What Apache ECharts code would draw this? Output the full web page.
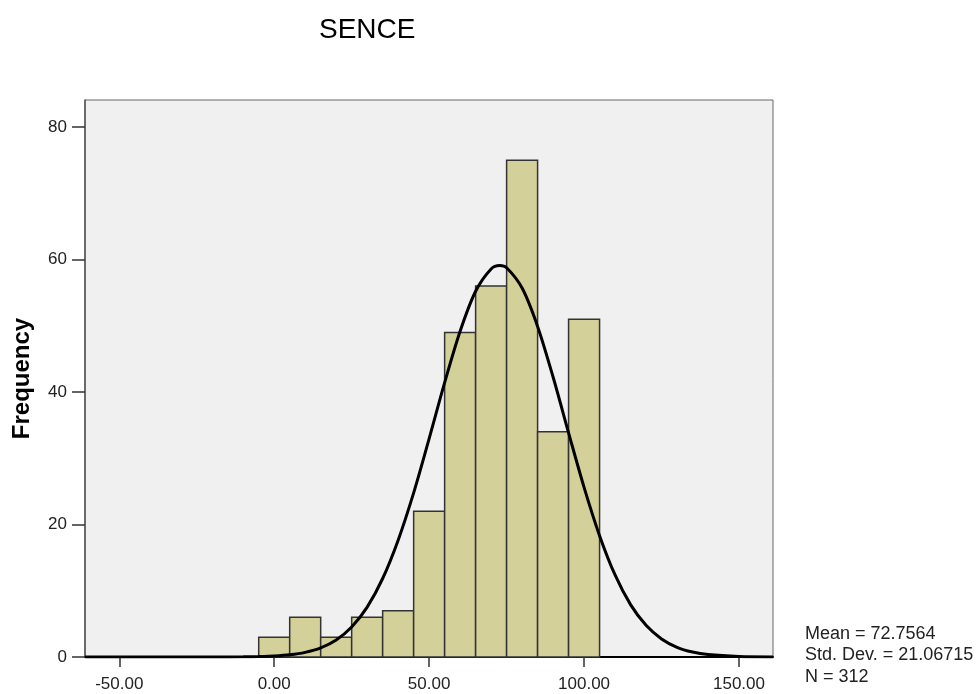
<!DOCTYPE html>
<html>
<head>
<meta charset="utf-8">
<script src="https://cdn.jsdelivr.net/npm/echarts@6/dist/echarts.min.js"></script>
<style>
  html, body { margin: 0; padding: 0; background: #fff; }
  #main { width: 979px; height: 694px; }
</style>
</head>
<body>
<div id="main"></div>
<script>
// histogram bins (width 10, centred on 0, 10, ... 100)
const binStart = [-5, 5, 15, 25, 35, 45, 55, 65, 75, 85, 95];
const binEnd   = [5, 15, 25, 35, 45, 55, 65, 75, 85, 95, 105];
const counts   = [3, 6, 3, 6, 7, 22, 49, 56, 75, 34, 51];

// normal curve
const curveX = [-61, -40, -20, -10, -5, 0, 5, 10, 15, 20, 25, 30, 35, 40, 45, 50, 55, 60, 65, 70, 72.8, 75, 80, 85, 90, 95, 100, 105, 110, 115, 120, 125, 130, 135, 140, 150, 161];
const curveY = [0, 0, 0.002, 0.03, 0.07, 0.15, 0.33, 0.7, 1.38, 2.57, 4.53, 7.53, 11.85, 17.64, 24.78, 32.97, 41.42, 49.18, 55.21, 58.58, 59.08, 58.75, 55.69, 49.9, 42.26, 33.84, 25.61, 18.32, 12.38, 7.91, 4.78, 2.73, 1.47, 0.75, 0.36, 0.07, 0.01];

const xTicks = [-50, 0, 50, 100, 150];
const yTicks = [0, 20, 40, 60, 80];
const statLines = ['Mean = 72.7564', 'Std. Dev. = 21.06715', 'N = 312'];

const barData = binStart.map((s, i) => [s, binEnd[i], counts[i]]);
const lineData = curveX.map((x, i) => [x, curveY[i]]);

const font = 'Liberation Sans, Arial, sans-serif';
const chart = echarts.init(document.getElementById('main'));
chart.setOption({
  animation: false,
  textStyle: { fontFamily: font },
  title: {
    text: 'SENCE',
    left: 314, top: 11,
    textStyle: { fontSize: 28, fontWeight: 'normal', color: '#000' }
  },
  grid: {
    left: 85, right: 206, top: 100, bottom: 37,
    show: true, backgroundColor: '#f0f0f0',
    borderColor: '#666', borderWidth: 1
  },
  xAxis: {
    type: 'value',
    min: -61.06, max: 160.97,
    axisLine: { show: true, onZero: false, lineStyle: { color: '#000', width: 2 } },
    axisTick: { show: true, customValues: xTicks, length: 10, lineStyle: { color: '#333', width: 1.5 } },
    axisLabel: {
      customValues: xTicks, color: '#222', fontSize: 17, margin: 19,
      formatter: v => v.toFixed(2)
    },
    splitLine: { show: false }
  },
  yAxis: {
    type: 'value',
    min: 0, max: 84.08,
    name: 'Frequency',
    nameLocation: 'middle', nameGap: 51,
    nameTextStyle: { fontSize: 24, fontWeight: 'bold', color: '#000' },
    axisLine: { show: true, onZero: false, lineStyle: { color: '#555', width: 1.5 } },
    axisTick: { show: true, customValues: yTicks, length: 13, lineStyle: { color: '#333', width: 1.5 } },
    axisLabel: { customValues: yTicks, color: '#222', fontSize: 17, margin: 18 },
    splitLine: { show: false }
  },
  graphic: [{
    type: 'text', left: 805, top: 623,
    style: { text: statLines.join('\n'), fontSize: 18, lineHeight: 21.5, fill: '#222', fontFamily: font }
  }],
  series: [
    {
      type: 'custom',
      data: barData,
      encode: { x: [0, 1], y: 2 },
      renderItem: (params, api) => {
        const p0 = api.coord([api.value(0), 0]);
        const p1 = api.coord([api.value(1), api.value(2)]);
        return {
          type: 'rect',
          shape: { x: p0[0], y: p1[1], width: p1[0] - p0[0], height: p0[1] - p1[1] },
          style: { fill: '#d4d09a', stroke: '#333', lineWidth: 1.5 }
        };
      }
    },
    {
      type: 'line',
      data: lineData,
      showSymbol: false,
      smooth: 0.3,
      lineStyle: { color: '#000', width: 3 },
      z: 5
    }
  ]
});
</script>
</body>
</html>
